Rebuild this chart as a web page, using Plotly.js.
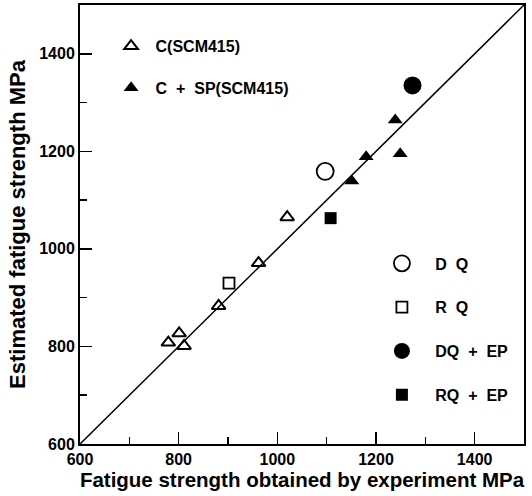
<!DOCTYPE html>
<html>
<head>
<meta charset="utf-8">
<script src="https://cdn.plot.ly/plotly-3.0.1.min.js"></script>
<style>html,body{margin:0;padding:0;background:#fff;}#chart{width:532px;height:496px;}</style>
</head>
<body>
<div id="chart"></div>
<script>
// Data (MPa): x = fatigue strength obtained by experiment, y = estimated fatigue strength
const cX = [779, 801, 811, 881, 962, 1020];
const cY = [808, 827, 801, 883, 971, 1065];
const cspX = [1151, 1180, 1239, 1249];
const cspY = [1139, 1189, 1264, 1195];
const dqX = [1097];
const dqY = [1159];
const rqX = [902];
const rqY = [930];
const dqepX = [1274];
const dqepY = [1335];
const rqepX = [1108];
const rqepY = [1063];
const diagX = [600, 1500];
const diagY = [600, 1500];
const tickVals = [600, 800, 1000, 1200, 1400];
const tickText = ['600', '800', '1000', '1200', '1400'];

const NB = '\u00a0';
const FONT = 'Liberation Sans, Arial, Helvetica, sans-serif';
const P1 = NB;
const P2 = NB + NB + NB;

const traces = [
  {x: diagX, y: diagY, mode: 'lines', line: {color: '#000', width: 1.5}, showlegend: false, hoverinfo: 'skip'},
  {x: cX, y: cY, mode: 'markers', name: P1 + 'C(SCM415)', legend: 'legend', legendgroup: 'a',
   marker: {symbol: 'triangle-up-open', size: 12, color: '#000', line: {color: '#000', width: 2}}},
  {x: cspX, y: cspY, mode: 'markers', name: P1 + 'C' + NB + NB + '+' + NB + NB + 'SP(SCM415)', legend: 'legend', legendgroup: 'b',
   marker: {symbol: 'triangle-up', size: 13, color: '#000'}},
  {x: dqX, y: dqY, mode: 'markers', name: P2 + 'D' + NB + NB + 'Q', legend: 'legend2', legendgroup: 'c',
   marker: {symbol: 'circle-open', size: 17, color: '#000', line: {color: '#000', width: 1.8}}},
  {x: rqX, y: rqY, mode: 'markers', name: P2 + 'R' + NB + NB + 'Q', legend: 'legend2', legendgroup: 'd',
   marker: {symbol: 'square-open', size: 11, color: '#000', line: {color: '#000', width: 1.8}}},
  {x: dqepX, y: dqepY, mode: 'markers', name: P2 + 'DQ' + NB + NB + '+' + NB + NB + 'EP', legend: 'legend2', legendgroup: 'e',
   marker: {symbol: 'circle', size: 18, color: '#000'}},
  {x: rqepX, y: rqepY, mode: 'markers', name: P2 + 'RQ' + NB + NB + '+' + NB + NB + 'EP', legend: 'legend2', legendgroup: 'f',
   marker: {symbol: 'square', size: 12, color: '#000'}}
];

const axisCommon = {
  range: [600, 1500],
  showgrid: false,
  zeroline: false,
  showline: true,
  mirror: true,
  linecolor: '#000',
  linewidth: 2,
  ticks: 'inside',
  ticklen: 12,
  tickwidth: 1.5,
  tickcolor: '#000',
  tickvals: tickVals,
  ticktext: tickText,
  tickfont: {family: FONT, size: 16, color: '#000', weight: 'bold'},
  minor: {dtick: 100, ticks: 'inside', ticklen: 7, tickwidth: 1.5, tickcolor: '#000', showgrid: false}
};

const layout = {
  width: 532, height: 496,
  margin: {l: 80, r: 8, t: 5, b: 52},
  paper_bgcolor: '#fff', plot_bgcolor: '#fff',
  showlegend: true,
  xaxis: Object.assign({}, axisCommon, {
    title: {text: 'Fatigue strength obtained by experiment MPa' + NB + NB + NB, font: {family: FONT, size: 20.5, color: '#000', weight: 'bold'}, standoff: 4}
  }),
  yaxis: Object.assign({}, axisCommon, {
    title: {text: 'Estimated fatigue strength MPa', font: {family: FONT, size: 22, color: '#000', weight: 'bold'}, standoff: 8}
  }),
  legend: {x: 0.07, y: 0.945, xanchor: 'left', yanchor: 'top', bgcolor: 'rgba(0,0,0,0)',
    traceorder: 'grouped', tracegroupgap: 18,
    font: {family: FONT, size: 16, color: '#000', weight: 'bold'}},
  legend2: {x: 0.68, y: 0.45, xanchor: 'left', yanchor: 'top', bgcolor: 'rgba(0,0,0,0)',
    traceorder: 'grouped', tracegroupgap: 20,
    font: {family: FONT, size: 16, color: '#000', weight: 'bold'}}
};

Plotly.newPlot('chart', traces, layout, {staticPlot: true, displayModeBar: false});
</script>
</body>
</html>
